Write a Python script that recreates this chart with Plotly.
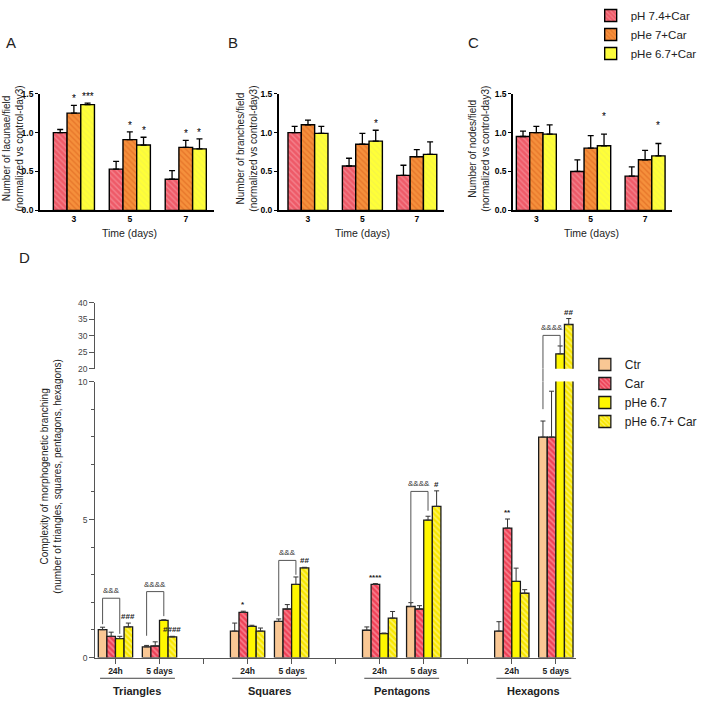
import plotly.graph_objects as go

W = H = 702

# ---------------- Panels A-C data ----------------
days = ["3", "5", "7"]
abc_series = ["pH 7.4+Car", "pHe 7+Car", "pHe 6.7+Car"]

lacunae = [[1.00, 0.53, 0.40], [1.25, 0.91, 0.81], [1.36, 0.84, 0.79]]
lacunae_err = [[1.04, 0.63, 0.51], [1.35, 1.01, 0.90], [1.38, 0.94, 0.92]]
lacunae_sig = [["", "", ""], ["*", "*", "*"], ["***", "*", "*"]]

branches = [[1.00, 0.57, 0.45], [1.10, 0.85, 0.69], [0.99, 0.89, 0.72]]
branches_err = [[1.08, 0.67, 0.58], [1.16, 0.99, 0.78], [1.08, 1.03, 0.88]]
branches_sig = [["", "", ""], ["", "", ""], ["", "*", ""]]

nodes = [[0.95, 0.50, 0.44], [1.00, 0.80, 0.65], [0.98, 0.83, 0.70]]
nodes_err = [[1.02, 0.65, 0.56], [1.08, 0.96, 0.77], [1.10, 0.98, 0.86]]
nodes_sig = [["", "", ""], ["", "", ""], ["", "*", "*"]]

abc_titles = ["Number of lacunae/field<br>(normalized vs control-day3)",
              "Number of branches/field<br>(normalized vs control-day3)",
              "Number of nodes/field<br>(normalized vs control-day3)"]

# ---------------- Panel D data ----------------
shape_groups = ["Triangles", "Squares", "Pentagons", "Hexagons"]
times = ["24h", "5 days"]
d_series = ["Ctr", "Car", "pHe 6.7", "pHe 6.7+ Car"]
# order: T24, T5, S24, S5, P24, P5, H24, H5
ctr = [1.01, 0.39, 0.96, 1.31, 0.99, 1.85, 0.96, 7.99]
ctr_err = [1.10, 0.44, 1.25, 1.40, 1.11, 1.99, 1.30, 8.57]
car = [0.77, 0.42, 1.64, 1.76, 2.65, 1.76, 4.69, 7.99]
car_err = [0.92, 0.57, 1.68, 1.92, 2.68, 1.88, 5.02, 9.65]
phe = [0.69, 1.35, 1.13, 2.65, 0.87, 4.98, 2.76, 24.5]
phe_err = [0.77, 1.37, 1.17, 2.92, 0.89, 5.12, 3.24, 26.9]
phecar = [1.11, 0.75, 0.96, 3.25, 1.43, 5.48, 2.33, 33.4]
phecar_err = [1.25, 0.77, 1.07, 3.27, 1.67, 6.04, 2.46, 35.2]
d_values = [ctr, car, phe, phecar]
d_errs = [ctr_err, car_err, phe_err, phecar_err]
d_sig = [[""] * 8,
         ["", "", "*", "", "****", "", "**", ""],
         [""] * 8,
         ["###", "####", "", "##", "", "#", "", "##"]]
# brackets: (subgroup index, top, left-leg bottom, right-leg bottom, label)
brackets = [(0, 2.15, 1.21, 0.86, "&&&"),
            (1, 2.39, 0.79, 1.50, "&&&&"),
            (3, 3.52, 1.50, 3.00, "&&&"),
            (5, 6.02, 1.93, 5.32, "&&&&"),
            (7, 30.1, 9.00, 26.9, "&&&&")]

# ---------------- helpers ----------------
def px(p):
    return p / W


def py(p):
    return 1 - p / H


FONT = "Arial, Liberation Sans, sans-serif"

abc_colors = [dict(bg="#EE5A68", fg="#F8AAB2", shape="\\"),
              dict(bg="#F5903C", fg="#D95E1A", shape="\\"),
              dict(bg="#FFFF38", fg="#EDED50", shape="\\")]
d_colors = [dict(bg="#F9C794", fg="#F9C794", shape=""),
            dict(bg="#EF4257", fg="#FFC0C8", shape="\\"),
            dict(bg="#FFF700", fg="#FFF700", shape=""),
            dict(bg="#F8E600", fg="#FFFFC8", shape="\\")]

fig = go.Figure()

# ---------------- A-C ----------------
abc_data = [(lacunae, lacunae_err, lacunae_sig),
            (branches, branches_err, branches_sig),
            (nodes, nodes_err, nodes_sig)]
suffix = ["", "2", "3"]
wA = 0.245
xs = list(range(len(days)))
annotations = []
for k, (vals, errs, sigs) in enumerate(abc_data):
    s = suffix[k]
    for i, name in enumerate(abc_series):
        c = abc_colors[i]
        fig.add_trace(go.Bar(
            x=xs, y=vals[i], width=wA, offset=-1.5 * wA + i * wA,
            name=name, legend="legend", showlegend=(k == 0),
            marker=dict(color=c["bg"],
                        pattern=dict(shape=c["shape"], fgcolor=c["fg"], bgcolor=c["bg"],
                                     size=4, solidity=0.35),
                        line=dict(color="black", width=1.4)),
            error_y=dict(type="data", symmetric=False,
                         array=[e - v for e, v in zip(errs[i], vals[i])],
                         arrayminus=[0] * len(xs), color="black", thickness=1.3, width=3),
            xaxis="x" + s, yaxis="y" + s, hoverinfo="skip"))
        for j in xs:
            if sigs[i][j]:
                annotations.append(dict(
                    x=j + (i - 1) * wA, y=errs[i][j], xref="x" + s, yref="y" + s,
                    text=sigs[i][j], showarrow=False, yanchor="bottom", xanchor="center",
                    yshift=(10 if k == 2 else -1),
                    font=dict(size=10, color="black", family=FONT)))

ydomABC = [py(208.3), py(90)]
xdoms = [[px(41), px(220)], [px(287), px(457)], [px(528), px(692)]]
xranges = [[-0.609, 2.5], [-0.536, 2.5], [-0.43, 2.5]]
tick_font = dict(size=8.5, color="black", family=FONT, weight="bold")
axis_common = dict(showline=True, linecolor="black", linewidth=1.5,
                   showgrid=False, zeroline=False, tickfont=tick_font)
for k in range(3):
    s = suffix[k]
    fig.layout["xaxis" + s] = dict(domain=xdoms[k], range=xranges[k], anchor="y" + s,
                                    tickvals=xs, ticktext=days, ticks="", **axis_common)
    fig.layout["yaxis" + s] = dict(domain=ydomABC, range=[0, 1.5], anchor="x" + s,
                                    tickvals=[0, 0.5, 1.0, 1.5], ticks="outside", ticklen=3,
                                    tickwidth=1.2, tickcolor="black",
                                    ticktext=["0.0", "0.5", "1.0", "1.5"], **axis_common)

title_x = [13, 254, 493]
time_x = [133, 373, 609]
for k in range(3):
    annotations.append(dict(x=px(title_x[k]), y=py(146), xref="paper", yref="paper",
                            xanchor="center", yanchor="middle",
                            text=abc_titles[k], textangle=-90, showarrow=False,
                            font=dict(size=10, color="#222", family=FONT)))
    annotations.append(dict(x=px(time_x[k]), y=py(231), xref="paper", yref="paper",
                            xanchor="center", yanchor="middle",
                            text="Time (days)", showarrow=False,
                            font=dict(size=10.5, color="#222", family=FONT)))
for lab, (lx, ly) in zip("ABCD", [(11, 38), (240, 38), (487, 38), (25, 256)]):
    annotations.append(dict(x=px(lx), y=py(ly), xref="paper", yref="paper", text=lab,
                            xanchor="center", yanchor="middle",
                            showarrow=False, font=dict(size=15, color="#222", family=FONT)))

# ---------------- D ----------------
wD = 0.195
slots = [3 * g + t for g in range(len(shape_groups)) for t in range(len(times))]
for i, name in enumerate(d_series):
    c = d_colors[i]
    for seg, (xa, ya) in enumerate([("x4", "y4"), ("x5", "y5")]):
        fig.add_trace(go.Bar(
            x=slots, y=d_values[i], width=wD, offset=-2 * wD + i * wD,
            name=name, legend="legend2", showlegend=(seg == 0),
            marker=dict(color=c["bg"],
                        pattern=dict(shape=c["shape"], fgcolor=c["fg"], bgcolor=c["bg"],
                                     size=4, solidity=0.4),
                        line=dict(color="#1a1a1a", width=1.3)),
            error_y=dict(type="data", symmetric=False,
                         array=[e - v for e, v in zip(d_errs[i], d_values[i])],
                         arrayminus=[0] * len(slots), color="#333", thickness=1, width=2.5),
            xaxis=xa, yaxis=ya, hoverinfo="skip"))

upper_dom = [py(369), py(302)]
lower_dom = [py(662), py(382)]
dx_dom = [px(98), px(593)]
d_tickvals = list(range(11))
d_ticktext = []
for v in d_tickvals:
    if v % 3 == 2:
        d_ticktext.append("")
    else:
        d_ticktext.append(times[v % 3])
fig.layout.xaxis4 = dict(domain=dx_dom, range=[-0.46, 10.46], anchor="y4",
                         showline=True, linecolor="#555", linewidth=1, ticks="outside",
                         ticklen=5, tickcolor="#555", tickvals=d_tickvals, ticktext=d_ticktext,
                         tickfont=dict(size=8.5, color="#222", family=FONT, weight="bold"),
                         showgrid=False, zeroline=False)
fig.layout.xaxis5 = dict(domain=dx_dom, matches="x4", anchor="y5", visible=False)
fig.layout.yaxis4 = dict(domain=lower_dom, range=[0, 10], anchor="x4", showline=True,
                         linecolor="#555", linewidth=1, ticks="outside", ticklen=5,
                         tickcolor="#555", tickvals=[0, 5, 10], showgrid=False, zeroline=False,
                         minor=dict(ticks="outside", dtick=1, ticklen=3, tickcolor="#555",
                                    showgrid=False),
                         tickfont=dict(size=8.5, color="#444", family=FONT))
fig.layout.yaxis5 = dict(domain=upper_dom, range=[20, 40], anchor="x5", showline=True,
                         linecolor="#555", linewidth=1, ticks="outside", ticklen=5,
                         tickcolor="#555", tickvals=[20, 25, 30, 35, 40], showgrid=False,
                         zeroline=False, tickfont=dict(size=8.5, color="#444", family=FONT))


def dref(v):
    return ("x5", "y5") if v >= 20 else ("x4", "y4")


for i in range(len(d_series)):
    for j, sl in enumerate(slots):
        if d_sig[i][j]:
            xr, yr = dref(d_errs[i][j])
            annotations.append(dict(x=sl + (i - 1.5) * wD, y=d_errs[i][j], xref=xr, yref=yr,
                                    text=d_sig[i][j], showarrow=False, yanchor="bottom",
                                    xanchor="center", yshift=0,
                                    font=dict(size=8, color="#222", family=FONT, weight="bold")))

shapes = []
line_style = dict(color="#555", width=1)


def vleg(x, top, bottom):
    if (top >= 20) == (bottom >= 20):
        xr, yr = dref(top)
        shapes.append(dict(type="line", x0=x, x1=x, y0=top, y1=bottom, xref=xr, yref=yr,
                           line=line_style))
    else:
        shapes.append(dict(type="line", x0=x, x1=x, y0=top, y1=20, xref="x5", yref="y5",
                           line=line_style))
        shapes.append(dict(type="line", x0=x, x1=x, y0=upper_dom[0], y1=lower_dom[1],
                           xref="x5", yref="paper", line=line_style))
        shapes.append(dict(type="line", x0=x, x1=x, y0=10, y1=bottom, xref="x4", yref="y4",
                           line=line_style))


for sg, top, lb, rb, lab in brackets:
    sl = slots[sg]
    xl = sl + (0 - 1.5) * wD
    xrr = sl + (2 - 1.5) * wD
    xr_, yr_ = dref(top)
    shapes.append(dict(type="line", x0=xl, x1=xrr, y0=top, y1=top, xref=xr_, yref=yr_,
                       line=line_style))
    vleg(xl, top, lb)
    vleg(xrr, top, rb)
    annotations.append(dict(x=(xl + xrr) / 2, y=top, xref=xr_, yref=yr_, text=lab,
                            showarrow=False, yanchor="bottom", xanchor="center", yshift=1,
                            font=dict(size=8, color="#333", family=FONT)))

for g, gname in enumerate(shape_groups):
    shapes.append(dict(type="line", x0=3 * g - 0.35, x1=3 * g + 1.35, y0=py(683), y1=py(683),
                       xref="x4", yref="paper", line=dict(color="#444", width=1)))
    annotations.append(dict(x=3 * g + 0.5, y=py(696), xref="x4", yref="paper", text=gname,
                            xanchor="center", yanchor="middle", showarrow=False,
                            font=dict(size=11, color="#222", family=FONT, weight="bold")))

annotations.append(dict(x=px(53), y=py(478), xref="paper", yref="paper",
                        xanchor="center", yanchor="middle",
                        text="Complexity of morphogenetic branching<br>"
                             "(number of triangles, squares, pentagons, hexagons)",
                        textangle=-90, showarrow=False,
                        font=dict(size=10, color="#222", family=FONT)))

fig.update_layout(
    width=W, height=H, margin=dict(l=0, r=0, t=0, b=0),
    paper_bgcolor="white", plot_bgcolor="white", barmode="overlay",
    font=dict(family=FONT, color="#222"),
    annotations=annotations, shapes=shapes,
    legend=dict(x=px(608), y=1 + 4 / H, xanchor="left", yanchor="top",
                font=dict(size=11.5, color="#222", family=FONT), bgcolor="rgba(0,0,0,0)"),
    legend2=dict(x=px(602), y=py(350), xanchor="left", yanchor="top",
                 font=dict(size=12, color="#222", family=FONT), bgcolor="rgba(0,0,0,0)"),
)

fig.write_html("out.html")
